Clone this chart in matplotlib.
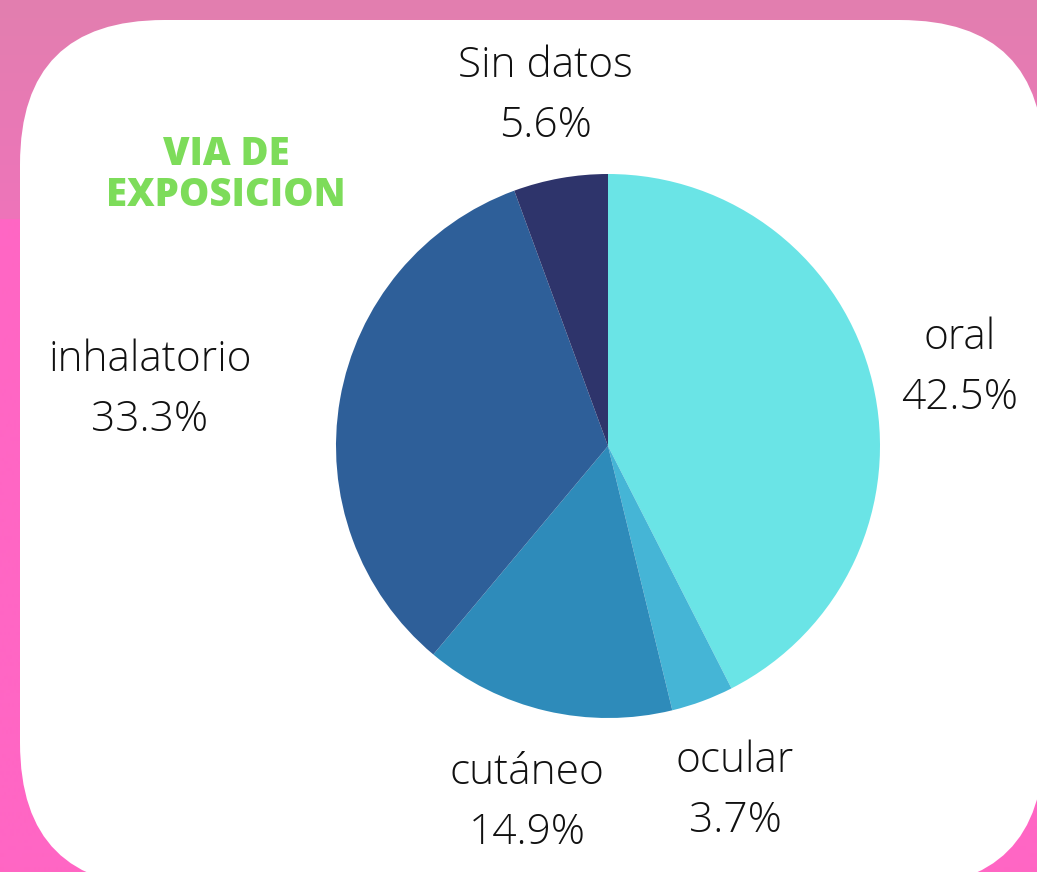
import matplotlib
matplotlib.use("Agg")
import matplotlib.pyplot as plt
import numpy as np
from matplotlib.patches import FancyBboxPatch

categories = ["oral", "ocular", "cutáneo", "inhalatorio", "Sin datos"]
values = [42.5, 3.7, 14.9, 33.3, 5.6]
colors = ["#6ae4e6", "#45b5d6", "#2e8bba", "#2e5f99", "#2e346b"]
title = "VIA DE\nEXPOSICION"

# label centre positions in pixel space (x, y from top)
label_pos = [(960, 368), (735, 791), (527, 803), (150, 390), (545, 96)]

W, H = 1037, 872
fig = plt.figure(figsize=(W / 100, H / 100), dpi=100)
ax = fig.add_axes([0, 0, 1, 1])
ax.set_xlim(0, W)
ax.set_ylim(0, H)
ax.axis("off")

# background: gradient top band + solid pink
top = np.array([0xe2, 0x7f, 0xaf]) / 255
mid = np.array([0xee, 0x74, 0xba]) / 255
pink = np.array([0xff, 0x66, 0xc4]) / 255
rows = []
for py in range(H):
    if py < 220:
        t = py / 220
        rows.append(top * (1 - t) + mid * t)
    else:
        rows.append(pink)
img = np.array(rows)[:, None, :].repeat(2, axis=1)
ax.imshow(img, extent=[0, W, 0, H], origin="upper", aspect="auto", zorder=0)

# white rounded panel: x 20..1044, y(top) 20..887
r = 144
x0, x1 = 20, 1044
ytop, ybot = 20, 887
panel = FancyBboxPatch((x0 + r, H - ybot + r), (x1 - x0) - 2 * r, (ybot - ytop) - 2 * r,
                       boxstyle=f"round,pad={r}", facecolor="white", edgecolor="none",
                       zorder=1, clip_on=True)
ax.add_patch(panel)

cx, cy, rad = 608, H - 446, 272
wedges, _ = ax.pie(values, colors=colors, startangle=90, counterclock=False,
                   center=(cx, cy), radius=rad, frame=True,
                   wedgeprops=dict(linewidth=0))
for w in wedges:
    w.set_zorder(2)
ax.set_xlim(0, W)
ax.set_ylim(0, H)
ax.set_aspect("auto")
ax.axis("off")

for cat, val, (lx, ly) in zip(categories, values, label_pos):
    ax.text(lx, H - ly, f"{cat}\n{val}%", ha="center", va="center",
            fontsize=30.5, family="Open Sans", fontweight="light",
            color="#111111", linespacing=1.55, zorder=3)

ax.text(226, H - 175, title, ha="center", va="center", fontsize=27.5,
        family="Open Sans", fontweight="heavy", color="#7ddc5a",
        linespacing=1.05, zorder=3)

fig.savefig("out.png", dpi=100)
